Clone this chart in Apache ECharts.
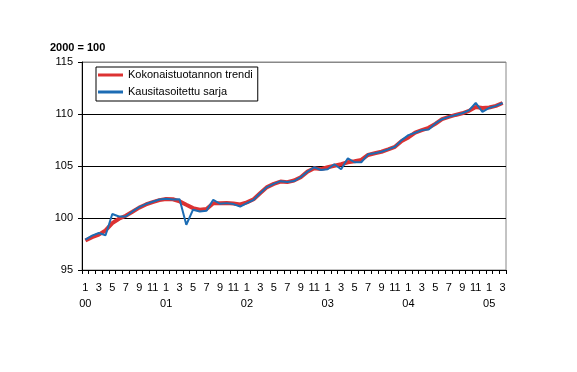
<!DOCTYPE html>
<html>
<head>
<meta charset="utf-8">
<script src="https://cdn.jsdelivr.net/npm/echarts@6/dist/echarts.min.js"></script>
<style>html,body{margin:0;padding:0;background:#fff}#c{width:577px;height:372px}</style>
</head>
<body>
<div id="c"></div>
<script>
var yearLabels = ['00', '01', '02', '03', '04', '05'];
var monthLabels = ['1', '', '3', '', '5', '', '7', '', '9', '', '11', ''];
var nMonths = 63;
var categories = [];
for (var i = 0; i < nMonths; i++) {
  categories.push('20' + yearLabels[Math.floor(i / 12)] + '-' + (i % 12 + 1));
}

var trend = [
  97.83, 98.15, 98.40, 98.80, 99.50, 99.93, 100.22, 100.60, 101.00, 101.30, 101.53, 101.72,
  101.82, 101.80, 101.60, 101.27, 100.95, 100.80, 100.86, 101.43, 101.43, 101.45, 101.40, 101.30,
  101.50, 101.80, 102.40, 102.97, 103.28, 103.50, 103.45, 103.60,
  103.92, 104.46, 104.78, 104.70, 104.88, 105.03, 105.17, 105.36, 105.45, 105.58, 106.06, 106.22,
  106.37, 106.60, 106.85, 107.40, 107.75, 108.20, 108.45, 108.67, 109.05, 109.50, 109.72, 109.91,
  110.07, 110.30, 110.68, 110.58, 110.62, 110.78, 111.06
];
var seasonal = [
  97.92, 98.30, 98.56, 98.34, 100.38, 100.15, 100.15, 100.63, 101.05, 101.34, 101.56, 101.78,
  101.85, 101.78, 101.80, 99.35, 100.80, 100.63, 100.70, 101.75, 101.37, 101.43, 101.34, 101.10,
  101.43, 101.75, 102.40, 102.97, 103.28, 103.54, 103.47, 103.55,
  103.92, 104.46, 104.88, 104.62, 104.69, 105.17, 104.69, 105.74, 105.36, 105.36, 106.12, 106.22,
  106.37, 106.60, 106.85, 107.49, 107.97, 108.20, 108.45, 108.52, 109.09, 109.50, 109.72, 109.91,
  110.07, 110.35, 111.06, 110.20, 110.58, 110.78, 111.06
];
var seriesNames = ['Kokonaistuotannon trendi', 'Kausitasoitettu sarja'];

var chart = echarts.init(document.getElementById('c'), null, {renderer: 'canvas'});
var font = 'Liberation Sans, Arial, sans-serif';
chart.setOption({
  animation: false,
  backgroundColor: '#fff',
  title: {
    text: '2000 = 100',
    left: 45, top: 37,
    textStyle: {fontFamily: font, fontSize: 11, fontWeight: 'bold', color: '#000'}
  },
  grid: {
    left: 82, right: 71, top: 62, bottom: 102,
    show: true, borderColor: '#888', borderWidth: 1, backgroundColor: 'transparent'
  },
  legend: {
    orient: 'vertical',
    left: 96, top: 67,
    padding: [2, 5, 3, 2],
    itemGap: 5,
    itemWidth: 25,
    itemHeight: 3,
    borderColor: '#000', borderWidth: 1,
    data: [
      {name: seriesNames[0], icon: 'rect', itemStyle: {color: '#dc3232'}},
      {name: seriesNames[1], icon: 'rect', itemStyle: {color: '#1c6cb4'}}
    ],
    textStyle: {fontFamily: font, fontSize: 11, color: '#000', lineHeight: 12}
  },
  xAxis: {
    type: 'category',
    data: categories,
    boundaryGap: true,
    axisLine: {lineStyle: {color: '#000', width: 1}},
    axisTick: {show: true, interval: 0, length: 4, lineStyle: {color: '#000'}},
    axisLabel: {
      interval: 0,
      margin: 10,
      fontFamily: font, fontSize: 11, color: '#000', lineHeight: 16,
      formatter: function (v, idx) {
        var m = monthLabels[idx % 12];
        if (!m) return '';
        if (idx % 12 === 0) return m + '\n' + yearLabels[Math.floor(idx / 12)];
        return m;
      }
    }
  },
  yAxis: {
    type: 'value',
    min: 95, max: 115, interval: 5,
    axisLine: {show: true, lineStyle: {color: '#000', width: 1}},
    axisTick: {show: true, length: 4, lineStyle: {color: '#000'}},
    axisLabel: {margin: 9, fontFamily: font, fontSize: 11, color: '#000'},
    splitLine: {show: true, lineStyle: {color: ['#000', '#000', '#000', '#000', '#888'], width: 1}}
  },
  series: [
    {
      name: seriesNames[0], type: 'line', data: trend,
      showSymbol: false, symbol: 'none',
      lineStyle: {color: '#dc3232', width: 4},
      itemStyle: {color: '#dc3232'}, z: 2
    },
    {
      name: seriesNames[1], type: 'line', data: seasonal,
      showSymbol: false, symbol: 'none',
      lineStyle: {color: '#1c6cb4', width: 2},
      itemStyle: {color: '#1c6cb4'}, z: 3
    }
  ]
});
</script>
</body>
</html>
